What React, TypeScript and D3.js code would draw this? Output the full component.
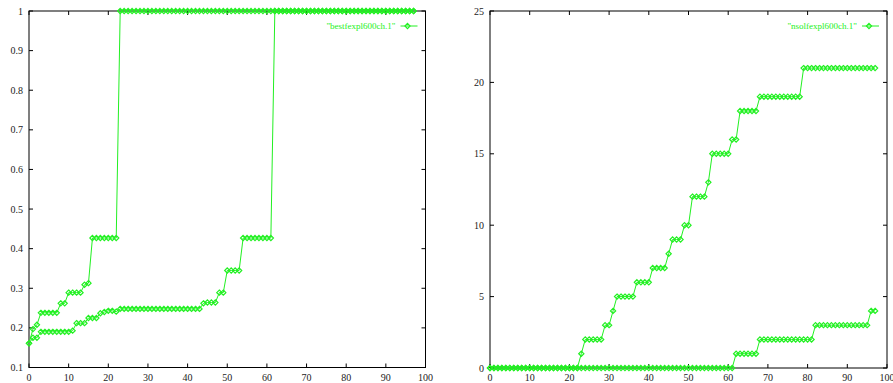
import { useEffect, useRef } from "react";
import * as d3 from "d3";

// x runs 0..97 for every series
const steps = d3.range(0, 98);

const bestUpper = [
  0.161, 0.197, 0.208, 0.238, 0.238, 0.238, 0.238, 0.238, 0.262, 0.262,
  0.289, 0.289, 0.289, 0.289, 0.309, 0.313, 0.427, 0.427, 0.427, 0.427,
  0.427, 0.427, 0.427, 1, 1, 1, 1, 1, 1, 1,
  1, 1, 1, 1, 1, 1, 1, 1, 1, 1,
  1, 1, 1, 1, 1, 1, 1, 1, 1, 1,
  1, 1, 1, 1, 1, 1, 1, 1, 1, 1,
  1, 1, 1, 1, 1, 1, 1, 1, 1, 1,
  1, 1, 1, 1, 1, 1, 1, 1, 1, 1,
  1, 1, 1, 1, 1, 1, 1, 1, 1, 1,
  1, 1, 1, 1, 1, 1, 1, 1,
];

const bestLower = [
  0.161, 0.175, 0.175, 0.19, 0.19, 0.19, 0.19, 0.19, 0.19, 0.19,
  0.19, 0.193, 0.212, 0.212, 0.212, 0.225, 0.225, 0.225, 0.237, 0.24,
  0.243, 0.243, 0.241, 0.248, 0.248, 0.248, 0.248, 0.248, 0.248, 0.248,
  0.248, 0.248, 0.248, 0.248, 0.248, 0.248, 0.248, 0.248, 0.248, 0.248,
  0.248, 0.248, 0.248, 0.248, 0.262, 0.264, 0.264, 0.264, 0.289, 0.289,
  0.345, 0.345, 0.345, 0.345, 0.427, 0.427, 0.427, 0.427, 0.427, 0.427,
  0.427, 0.427, 1, 1, 1, 1, 1, 1, 1, 1,
  1, 1, 1, 1, 1, 1, 1, 1, 1, 1,
  1, 1, 1, 1, 1, 1, 1, 1, 1, 1,
  1, 1, 1, 1, 1, 1, 1, 1,
];

const nsolUpper = [
  0, 0, 0, 0, 0, 0, 0, 0, 0, 0,
  0, 0, 0, 0, 0, 0, 0, 0, 0, 0,
  0, 0, 0, 1, 2, 2, 2, 2, 2, 3,
  3, 4, 5, 5, 5, 5, 5, 6, 6, 6,
  6, 7, 7, 7, 7, 8, 9, 9, 9, 10,
  10, 12, 12, 12, 12, 13, 15, 15, 15, 15,
  15, 16, 16, 18, 18, 18, 18, 18, 19, 19,
  19, 19, 19, 19, 19, 19, 19, 19, 19, 21,
  21, 21, 21, 21, 21, 21, 21, 21, 21, 21,
  21, 21, 21, 21, 21, 21, 21, 21,
];

const nsolLower = [
  0, 0, 0, 0, 0, 0, 0, 0, 0, 0,
  0, 0, 0, 0, 0, 0, 0, 0, 0, 0,
  0, 0, 0, 0, 0, 0, 0, 0, 0, 0,
  0, 0, 0, 0, 0, 0, 0, 0, 0, 0,
  0, 0, 0, 0, 0, 0, 0, 0, 0, 0,
  0, 0, 0, 0, 0, 0, 0, 0, 0, 0,
  0, 0, 1, 1, 1, 1, 1, 1, 2, 2,
  2, 2, 2, 2, 2, 2, 2, 2, 2, 2,
  2, 2, 3, 3, 3, 3, 3, 3, 3, 3,
  3, 3, 3, 3, 3, 3, 4, 4,
];

const xTicks = [0, 10, 20, 30, 40, 50, 60, 70, 80, 90, 100];
const bestTicks = [0.1, 0.2, 0.3, 0.4, 0.5, 0.6, 0.7, 0.8, 0.9, 1];
const nsolTicks = [0, 5, 10, 15, 20, 25];

const GREEN = "#22f022";
const FONT = '"Liberation Serif", "DejaVu Serif", serif';

type Panel = {
  left: number;
  right: number;
  top: number;
  bottom: number;
  yDomain: [number, number];
  yTicks: number[];
  yFormat: (v: number) => string;
  series: number[][];
  label: string;
};

function drawPanel(svg: d3.Selection<SVGSVGElement, unknown, null, undefined>, p: Panel) {
  const x = d3.scaleLinear().domain([0, 100]).range([p.left, p.right]);
  const y = d3.scaleLinear().domain(p.yDomain).range([p.bottom, p.top]);
  const g = svg.append("g").style("font-family", FONT).style("font-size", "10px");
  const tick = 4;

  // ticks, mirrored on all sides like gnuplot
  xTicks.forEach((t) => {
    g.append("line").attr("x1", x(t)).attr("x2", x(t)).attr("y1", p.bottom).attr("y2", p.bottom - tick).attr("stroke", "#000");
    g.append("line").attr("x1", x(t)).attr("x2", x(t)).attr("y1", p.top).attr("y2", p.top + tick).attr("stroke", "#000");
    g.append("text").attr("x", x(t)).attr("y", p.bottom + 13).attr("text-anchor", "middle")
      .attr("fill", "#222").text(t);
  });
  p.yTicks.forEach((t) => {
    g.append("line").attr("x1", p.left).attr("x2", p.left + tick).attr("y1", y(t)).attr("y2", y(t)).attr("stroke", "#000");
    g.append("line").attr("x1", p.right).attr("x2", p.right - tick).attr("y1", y(t)).attr("y2", y(t)).attr("stroke", "#000");
    g.append("text").attr("x", p.left - 6).attr("y", y(t) + 3.5).attr("text-anchor", "end")
      .attr("fill", "#222").text(p.yFormat(t));
  });

  g.append("rect").attr("x", p.left).attr("y", p.top)
    .attr("width", p.right - p.left).attr("height", p.bottom - p.top)
    .attr("fill", "none").attr("stroke", "#000").attr("stroke-width", 1);

  const line = d3.line<number>().x((_, i) => x(steps[i])).y((d) => y(d));
  const diamond = "M0,-2.6L2.6,0L0,2.6L-2.6,0Z";

  p.series.forEach((vals) => {
    g.append("path").datum(vals).attr("d", line).attr("fill", "none")
      .attr("stroke", GREEN).attr("stroke-width", 1);
    g.append("g").selectAll("path").data(vals).join("path")
      .attr("transform", (d, i) => `translate(${x(steps[i])},${y(d)})`)
      .attr("d", diamond).attr("fill", "none").attr("stroke", GREEN).attr("stroke-width", 1.2);
  });

  // key
  const ky = p.top + 15;
  const kx = p.right - 30;
  g.append("text").attr("x", kx).attr("y", ky + 3).attr("text-anchor", "end")
    .style("font-size", "9px").attr("fill", GREEN).text(p.label);
  g.append("line").attr("x1", kx + 5).attr("x2", kx + 22).attr("y1", ky).attr("y2", ky)
    .attr("stroke", GREEN).attr("stroke-width", 1);
  g.append("path").attr("transform", `translate(${kx + 12},${ky})`).attr("d", diamond)
    .attr("fill", "none").attr("stroke", GREEN).attr("stroke-width", 1.2);
}

export default function App() {
  const ref = useRef<SVGSVGElement | null>(null);

  useEffect(() => {
    if (!ref.current) return;
    const svg = d3.select(ref.current);
    svg.selectAll("*").remove();

    drawPanel(svg, {
      left: 29, right: 425.5, top: 11, bottom: 367.5,
      yDomain: [0.1, 1], yTicks: bestTicks,
      yFormat: (v) => String(Math.round(v * 10) / 10),
      series: [bestLower, bestUpper],
      label: '"bestfexpl600ch.1"',
    });
    drawPanel(svg, {
      left: 490, right: 887, top: 11, bottom: 368,
      yDomain: [0, 25], yTicks: nsolTicks,
      yFormat: (v) => String(v),
      series: [nsolLower, nsolUpper],
      label: '"nsolfexpl600ch.1"',
    });
  }, []);

  return (
    <svg
      ref={ref}
      width={893}
      height={383}
      style={{ position: "absolute", left: 0, top: 0, background: "#fff" }}
    />
  );
}
